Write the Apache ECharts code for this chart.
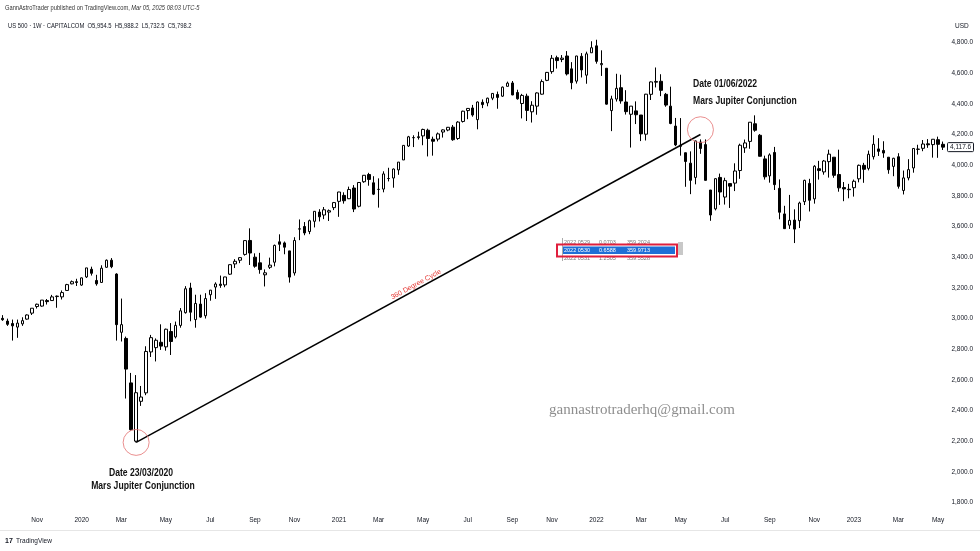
<!DOCTYPE html>
<html><head><meta charset="utf-8">
<script src="https://cdn.jsdelivr.net/npm/echarts@6/dist/echarts.min.js"></script>
<style>html,body{margin:0;padding:0;background:#fff}#c{width:980px;height:551px}</style>
</head><body><div id="c"></div>
<script>
// weekly bars: [week, open, high, low, close]
const bars2019 = [
 ['2019-09-16',3001,3022,2985,2992],['2019-09-23',2983,2999,2952,2962],['2019-09-30',2967,2993,2856,2952],
 ['2019-10-07',2944,2993,2874,2970],['2019-10-14',2965,3008,2952,2986],['2019-10-21',2996,3027,2992,3023],
 ['2019-10-28',3035,3067,3023,3067],['2019-11-04',3078,3097,3065,3093],['2019-11-11',3081,3120,3077,3120],
 ['2019-11-18',3117,3127,3091,3110],['2019-11-25',3117,3154,3115,3141],['2019-12-02',3143,3150,3070,3146],
 ['2019-12-09',3141,3183,3124,3169],['2019-12-16',3183,3226,3183,3221],['2019-12-23',3226,3248,3223,3240],
 ['2019-12-30',3240,3259,3212,3235]
];
const bars2020 = [
 ['2020-01-06',3218,3267,3213,3265],['2020-01-13',3271,3330,3264,3330],['2020-01-20',3321,3338,3280,3295],
 ['2020-01-27',3248,3285,3214,3226],['2020-02-03',3235,3347,3235,3328],['2020-02-10',3334,3385,3331,3380],
 ['2020-02-17',3380,3394,3328,3338],['2020-02-24',3290,3295,2856,2960],['2020-03-02',2910,3130,2850,2960],
 ['2020-03-09',2870,2882,2478,2670],['2020-03-16',2580,2645,2270,2275],['2020-03-23',2200,2631,2192,2516],
 ['2020-03-30',2460,2560,2430,2488],['2020-04-06',2515,2819,2500,2785],['2020-04-13',2782,2893,2749,2875],
 ['2020-04-20',2810,2870,2720,2858],['2020-04-27',2845,2962,2795,2820],['2020-05-04',2815,2934,2790,2930],
 ['2020-05-11',2915,2970,2762,2850],['2020-05-18',2880,2980,2870,2955],['2020-05-25',2955,3068,2940,3050],
 ['2020-06-01',3038,3211,3032,3194],['2020-06-08',3199,3233,2982,3041],['2020-06-15',2993,3155,2940,3098],
 ['2020-06-22',3094,3155,3004,3009],['2020-06-29',3018,3165,3000,3130],['2020-07-06',3155,3186,3116,3185],
 ['2020-07-13',3205,3236,3128,3225],['2020-07-20',3224,3280,3200,3216],['2020-07-27',3219,3272,3204,3271],
 ['2020-08-03',3289,3352,3284,3351],['2020-08-10',3356,3387,3329,3373],['2020-08-17',3380,3399,3361,3397],
 ['2020-08-24',3418,3509,3410,3508],['2020-08-31',3509,3588,3349,3427],['2020-09-07',3400,3425,3331,3341],
 ['2020-09-14',3363,3428,3292,3319],['2020-09-21',3285,3320,3209,3298],['2020-09-28',3334,3397,3323,3348],
 ['2020-10-05',3367,3482,3340,3477],['2020-10-12',3500,3549,3440,3484],['2020-10-19',3493,3502,3419,3465],
 ['2020-10-26',3441,3441,3234,3270],['2020-11-02',3297,3530,3280,3509],['2020-11-09',3583,3646,3511,3585],
 ['2020-11-16',3600,3629,3543,3558],['2020-11-23',3567,3645,3550,3638],['2020-11-30',3634,3700,3594,3699],
 ['2020-12-07',3694,3713,3633,3663],['2020-12-14',3675,3727,3648,3709],['2020-12-21',3694,3711,3636,3703],
 ['2020-12-28',3723,3760,3707,3756]
];
const bars2021 = [
 ['2021-01-04',3764,3826,3663,3825],['2021-01-11',3803,3823,3749,3768],['2021-01-18',3781,3860,3779,3841],
 ['2021-01-25',3851,3870,3694,3714],['2021-02-01',3732,3889,3725,3887],['2021-02-08',3892,3935,3885,3934],
 ['2021-02-15',3939,3950,3866,3907],['2021-02-22',3885,3928,3805,3811],['2021-03-01',3842,3914,3723,3842],
 ['2021-03-08',3844,3960,3823,3943],['2021-03-15',3913,3983,3894,3913],['2021-03-22',3916,3978,3853,3975],
 ['2021-03-29',3969,4020,3937,4020],['2021-04-05',4034,4129,4034,4129],['2021-04-12',4125,4191,4119,4185],
 ['2021-04-19',4179,4195,4118,4180],['2021-04-26',4185,4218,4167,4181],['2021-05-03',4191,4238,4130,4233],
 ['2021-05-10',4228,4238,4057,4174],['2021-05-17',4169,4186,4062,4156],['2021-05-24',4170,4213,4155,4204],
 ['2021-05-31',4216,4234,4180,4230],['2021-06-07',4229,4249,4221,4247],['2021-06-14',4248,4262,4159,4166],
 ['2021-06-21',4174,4287,4165,4281],['2021-06-28',4285,4355,4278,4352],['2021-07-05',4356,4372,4300,4370],
 ['2021-07-12',4373,4393,4316,4327],['2021-07-19',4297,4415,4234,4412],['2021-07-26',4410,4429,4372,4395],
 ['2021-08-02',4406,4440,4384,4437],['2021-08-09',4437,4469,4424,4468],['2021-08-16',4461,4480,4368,4442],
 ['2021-08-23',4450,4513,4445,4509],['2021-08-30',4514,4545,4514,4535],['2021-09-06',4536,4549,4456,4458],
 ['2021-09-13',4474,4492,4427,4433],['2021-09-20',4402,4465,4305,4455],['2021-09-27',4450,4466,4288,4357],
 ['2021-10-04',4348,4417,4278,4391],['2021-10-11',4385,4475,4329,4471],['2021-10-18',4463,4559,4460,4545],
 ['2021-10-25',4553,4608,4548,4605],['2021-11-01',4610,4718,4596,4697],['2021-11-08',4701,4714,4630,4682],
 ['2021-11-15',4689,4718,4672,4698],['2021-11-22',4712,4744,4585,4595],['2021-11-29',4628,4672,4495,4538],
 ['2021-12-06',4548,4713,4532,4712],['2021-12-13',4710,4731,4572,4621],['2021-12-20',4587,4740,4531,4726],
 ['2021-12-27',4733,4808,4733,4766]
];
const bars2022 = [
 ['2022-01-03',4778,4818,4662,4677],['2022-01-10',4655,4749,4582,4663],['2022-01-17',4632,4632,4395,4398],
 ['2022-01-24',4356,4453,4222,4432],['2022-01-31',4431,4596,4415,4501],['2022-02-07',4505,4590,4401,4419],
 ['2022-02-14',4412,4489,4330,4349],['2022-02-21',4332,4385,4115,4385],['2022-02-28',4354,4416,4268,4329],
 ['2022-03-07',4327,4327,4157,4204],['2022-03-14',4202,4465,4161,4463],['2022-03-21',4462,4546,4425,4543],
 ['2022-03-28',4541,4637,4507,4546],['2022-04-04',4547,4593,4450,4488],['2022-04-11',4462,4471,4381,4392],
 ['2022-04-18',4385,4512,4267,4272],['2022-04-25',4255,4308,4124,4132],['2022-05-02',4130,4307,4062,4123],
 ['2022-05-09',4081,4082,3859,4024],['2022-05-16',4013,4090,3811,3901],['2022-05-23',3920,4160,3875,4158],
 ['2022-05-30',4151,4168,4074,4109],['2022-06-06',4134,4168,3900,3901],['2022-06-13',3838,3838,3637,3675],
 ['2022-06-20',3715,3914,3705,3912],['2022-06-27',3920,3945,3741,3825],['2022-07-04',3792,3918,3743,3899],
 ['2022-07-11',3880,3880,3721,3863],['2022-07-18',3883,4012,3831,3962],['2022-07-25',3965,4140,3911,4130],
 ['2022-08-01',4113,4167,4080,4145],['2022-08-08',4155,4280,4107,4280],['2022-08-15',4270,4325,4218,4228],
 ['2022-08-22',4195,4203,4057,4058],['2022-08-29',4041,4062,3906,3924],['2022-09-05',3930,4077,3886,4067],
 ['2022-09-12',4083,4119,3838,3873],['2022-09-19',3849,3907,3647,3693],['2022-09-26',3682,3735,3584,3586],
 ['2022-10-03',3609,3806,3584,3640],['2022-10-10',3642,3712,3492,3583],['2022-10-17',3638,3762,3590,3753],
 ['2022-10-24',3762,3905,3740,3901],['2022-10-31',3881,3911,3698,3771],['2022-11-07',3780,4000,3749,3993],
 ['2022-11-14',3977,4028,3906,3965],['2022-11-21',3956,4034,3938,4027],['2022-11-28',4023,4101,3919,4072],
 ['2022-12-05',4052,4052,3918,3934],['2022-12-12',3939,4101,3827,3852],['2022-12-19',3854,3890,3765,3845],
 ['2022-12-26',3843,3878,3784,3840]
];
const bars2023 = [
 ['2023-01-02',3853,3906,3795,3895],['2023-01-09',3911,4004,3888,3999],['2023-01-16',3999,4015,3885,3973],
 ['2023-01-23',3979,4095,3966,4071],['2023-01-30',4055,4195,4037,4136],['2023-02-06',4106,4176,4060,4090],
 ['2023-02-13',4096,4156,4048,4079],['2023-02-20',4052,4052,3944,3970],['2023-02-27',3992,4048,3928,4045],
 ['2023-03-06',4055,4078,3847,3862],['2023-03-13',3835,3965,3809,3917],['2023-03-20',3917,4039,3901,3971],
 ['2023-03-27',3982,4110,3951,4109],['2023-04-03',4103,4133,4069,4105],['2023-04-10',4110,4164,4091,4138],
 ['2023-04-17',4139,4170,4113,4133],['2023-04-24',4134,4170,4049,4169],['2023-05-01',4166,4186,4048,4136],
 ['2023-05-08',4136,4154,4099,4117.6]
];
const monthNames = ['Jan','Feb','Mar','Apr','May','Jun','Jul','Aug','Sep','Oct','Nov','Dec'];
const yTicks = {min:1600, max:5000, step:200};
const cycleDates = ['2020-03-23','2022-05-30'];
const cycleValues = [2192, 4200];
const circleDates = ['2020-03-23','2022-05-30'];
const circleValues = [2192, 4231];
const lastPrice = 4117.6;
const tableRows = [
 ['2022 0529','0.0703','359.2024'],
 ['2022 0530','0.6588','359.9713'],
 ['2022 0531','1.2505','359.5528']
];

const bars = [].concat(bars2019, bars2020, bars2021, bars2022, bars2023);
const weeks = bars.map(b => b[0]);
const ohlc = bars.map(b => [b[1], b[4], b[3], b[2]]);
const N = weeks.length;
const catW = 4.95;
const pxPerUnit = 460/3000;
const gridTop = 42.5 - (yTicks.max-4800)*pxPerUnit;
const gridH = (yTicks.max-yTicks.min)*pxPerUnit;

const cycleLine = weeks.map(() => null);
cycleDates.forEach((d,i) => { cycleLine[weeks.indexOf(d)] = cycleValues[i]; });
const circles = circleDates.map((d,i) => [d, circleValues[i]]);

function fmt(v){
  const s = v.toFixed(1); const p = s.split('.');
  return p[0].replace(/\B(?=(\d{3})+(?!\d))/g, ',') + '.' + p[1];
}
function monthOf(i){ return parseInt(weeks[i].slice(5,7),10); }
function showLabel(i){
  if (i <= 0 || i >= N) return false;
  const m = monthOf(i);
  return m !== monthOf(i-1) && (m % 2 === 1);
}

const chart = echarts.init(document.getElementById('c'));
const font = 'Liberation Sans, Arial, sans-serif';
chart.setOption({
  animation: false,
  backgroundColor: '#ffffff',
  textStyle: {fontFamily: font},
  grid: {left: 0, top: gridTop, width: N*catW, height: gridH, containLabel: false},
  xAxis: {
    type: 'category', data: weeks, boundaryGap: true, offset: -18,
    axisLine: {show: false}, axisTick: {show: false}, splitLine: {show: false},
    axisLabel: {
      interval: (i) => showLabel(i), hideOverlap: false, margin: 2,
      fontSize: 6.5, color: '#131722', fontFamily: font,
      formatter: (v) => { const m = parseInt(v.slice(5,7),10); return m === 1 ? v.slice(0,4) : monthNames[m-1]; }
    }
  },
  yAxis: {
    type: 'value', position: 'right', min: yTicks.min, max: yTicks.max, interval: yTicks.step, scale: true,
    axisLine: {show: false}, axisTick: {show: false}, splitLine: {show: false},
    axisLabel: {margin: 6, fontSize: 6.5, color: '#131722', fontFamily: font,
      formatter: (v) => (v === yTicks.min || v === yTicks.max) ? '' : fmt(v)}
  },
  series: [
    {type: 'candlestick', data: ohlc, barWidth: 3,
     itemStyle: {color: '#ffffff', color0: '#000000', borderColor: '#000000', borderColor0: '#000000', borderColorDoji: '#000000', borderWidth: 1},
     emphasis: {disabled: true}},
    {type: 'line', data: cycleLine, connectNulls: true, symbol: 'none',
     lineStyle: {color: '#000000', width: 1.5}, z: 5, silent: true},
    {type: 'scatter', data: circles, symbol: 'circle', symbolSize: 26,
     itemStyle: {color: 'rgba(0,0,0,0)', borderColor: '#e57373', borderWidth: 1}, z: 6, silent: true}
  ]
});

// overlays positioned from the chart's own scales
const p1 = chart.convertToPixel({gridIndex: 0}, [weeks.indexOf(cycleDates[0]), cycleValues[0]]);
const p2 = chart.convertToPixel({gridIndex: 0}, [weeks.indexOf(cycleDates[1]), cycleValues[1]]);
const ang = Math.atan2(-(p2[1]-p1[1]), p2[0]-p1[0]);
const t = 0.5;
const mx = p1[0] + (p2[0]-p1[0])*t - Math.sin(ang)*4.5;
const my = p1[1] + (p2[1]-p1[1])*t - Math.cos(ang)*4.5;
const py = chart.convertToPixel({yAxisIndex: 0}, lastPrice);

const boldTxt = (x, y, s, align) => ({type: 'text', x: x, y: y, scaleX: 0.86, originX: 0, originY: 0,
  style: {text: s, fill: '#111', font: 'bold 10px Liberation Sans, Arial, sans-serif', textAlign: align, textVerticalAlign: 'middle'}});
const tcol = [564, 599, 627];
const tableEls = [];
tableEls.push({type: 'rect', shape: {x: 563, y: 246.5, width: 112, height: 7.5}, style: {fill: '#1f6fd6'}});
tableRows.forEach((r, ri) => {
  const yy = 242 + ri*8.2;
  r.forEach((c, ci) => tableEls.push({type: 'text', x: tcol[ci], y: yy,
    style: {text: c, fill: ri === 1 ? '#ffffff' : '#777', font: '5.5px Liberation Sans, Arial', textVerticalAlign: 'middle'}}));
});
tableEls.push({type: 'rect', shape: {x: 558, y: 261, width: 124, height: 5}, style: {fill: '#fff'}});
tableEls.push({type: 'line', shape: {x1: 562.5, y1: 238, x2: 562.5, y2: 261}, style: {stroke: '#aaa', lineWidth: 1}});
tableEls.push({type: 'rect', shape: {x: 678, y: 242, width: 5, height: 13}, style: {fill: '#c8c8c8'}});
tableEls.push({type: 'rect', shape: {x: 557, y: 244.5, width: 120, height: 12}, style: {fill: 'none', stroke: '#e01f3d', lineWidth: 2}});

chart.setOption({graphic: [
  {type: 'text', x: 5, y: 8, scaleX: 0.88, originX: 0, originY: 0, style: {rich: {a: {fontSize: 6.5, fill: '#333'}, b: {fontSize: 6.5, fill: '#333', fontStyle: 'italic'}},
     text: '{a|GannAstroTrader published on TradingView.com,} {b|Mar 05, 2025 08:03 UTC-5}', textVerticalAlign: 'middle', font: '6.5px Liberation Sans'}},
  {type: 'text', x: 8, y: 26, scaleX: 0.9, originX: 0, originY: 0, style: {text: 'US 500 · 1W · CAPITALCOM  O5,954.5  H5,988.2  L5,732.5  C5,798.2', fill: '#131722', font: '6.5px Liberation Sans, Arial', textVerticalAlign: 'middle'}},
  {type: 'text', x: 955, y: 26, style: {text: 'USD', fill: '#131722', font: '6.5px Liberation Sans, Arial', textVerticalAlign: 'middle'}},
  boldTxt(141, 473, 'Date 23/03/2020', 'center'),
  boldTxt(143, 486, 'Mars Jupiter Conjunction', 'center'),
  boldTxt(693, 84, 'Date 01/06/2022', 'left'),
  boldTxt(693, 101.5, 'Mars Jupiter Conjunction', 'left'),
  {type: 'text', x: mx, y: my, rotation: ang, originX: 0, originY: 0,
   style: {text: '360 Degree Cycle', fill: '#e53935', font: '7px Liberation Sans, Arial', textAlign: 'center', textVerticalAlign: 'middle'}},
  {type: 'text', x: 642, y: 410, style: {text: 'gannastrotraderhq@gmail.com', fill: '#8e8e8e', font: '15px Liberation Serif, Times New Roman, serif', textAlign: 'center', textVerticalAlign: 'middle'}},
  {type: 'rect', shape: {x: 947.5, y: py-4.5, width: 26, height: 9, r: 1}, style: {fill: '#fff', stroke: '#131722', lineWidth: 1}, z: 10},
  {type: 'text', x: 950, y: py, z: 11, style: {text: fmt(lastPrice), fill: '#131722', font: '6.5px Liberation Sans, Arial', textVerticalAlign: 'middle'}},
  {type: 'line', shape: {x1: 0, y1: 530.5, x2: 980, y2: 530.5}, style: {stroke: '#e6e6e6', lineWidth: 1}},
  {type: 'text', x: 5, y: 541, style: {rich: {l: {font: 'bold 7px Liberation Sans', fill: '#131722'}, t: {font: '6.5px Liberation Sans', fill: '#131722'}},
     text: '{l|17} {t|TradingView}', textVerticalAlign: 'middle'}},
  {type: 'group', children: tableEls}
]});
</script>
</body></html>
